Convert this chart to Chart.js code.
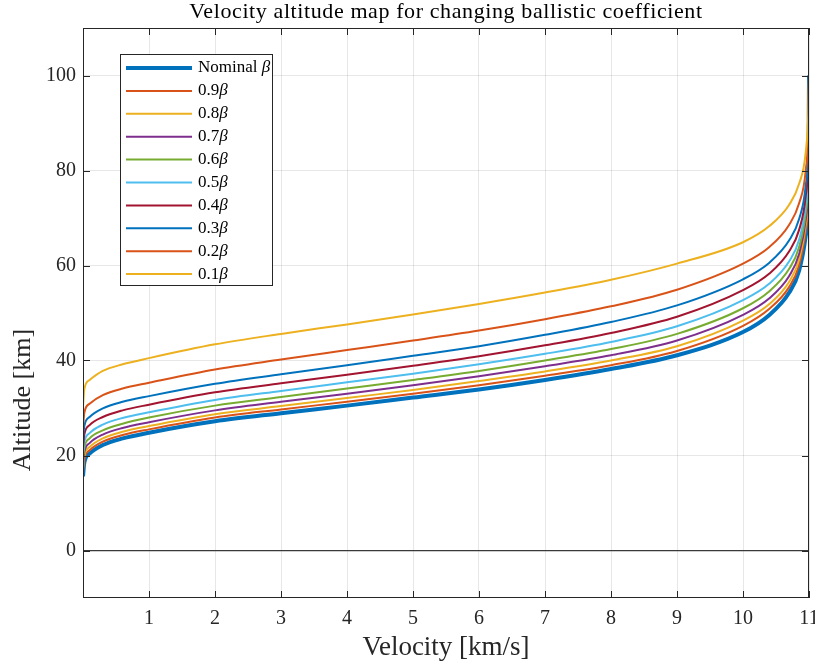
<!DOCTYPE html>
<html>
<head>
<meta charset="utf-8">
<title>Velocity altitude map</title>
<script src="https://cdn.jsdelivr.net/npm/chart.js@4.4.0/dist/chart.umd.min.js"></script>
<style>
    html, body { margin: 0; padding: 0; background: #ffffff; }
    #wrap { width: 815px; height: 668px; }
</style>
</head>
<body>
<div id="wrap"><canvas id="velAltChart" width="815" height="668"></canvas></div>
<script>
// Velocity samples [km/s], shared by every curve
const velocity = [0, 0.02, 0.1, 0.3, 0.6, 1, 2, 3, 4, 5, 6, 7, 8, 9, 10, 10.4, 10.7, 10.85, 10.95, 10.99, 11];

// Altitude [km] at the velocities above
const altNominal = [15.6, 18.5, 20.4, 22.2, 23.6, 24.8, 27.2, 28.9, 30.5, 32.2, 33.9, 35.9, 38.2, 41.1, 46.0, 49.6, 54.3, 58.9, 66.2, 76.9, 100];
const alt09 = [16.4, 19.2, 21.1, 22.9, 24.3, 25.5, 28.0, 29.7, 31.3, 33.0, 34.8, 36.8, 39.0, 42.0, 47.3, 50.9, 55.5, 60.1, 67.4, 78.0, 100];
const alt08 = [17.2, 19.9, 21.8, 23.6, 25.0, 26.2, 28.7, 30.4, 32.1, 33.8, 35.7, 37.7, 40.0, 43.0, 48.4, 51.9, 56.6, 61.2, 68.5, 79.1, 100];
const alt07 = [18.1, 20.7, 22.6, 24.4, 25.8, 27.0, 29.5, 31.3, 33.0, 34.8, 36.7, 38.8, 41.1, 44.2, 49.6, 53.1, 57.8, 62.4, 69.6, 80.2, 100];
const alt06 = [19.0, 21.6, 23.6, 25.3, 26.7, 28.0, 30.5, 32.3, 34.1, 35.9, 37.8, 40.0, 42.4, 45.6, 51.0, 54.6, 59.3, 63.9, 71.0, 81.5, 100];
const alt05 = [20.2, 22.8, 24.7, 26.5, 27.9, 29.1, 31.7, 33.6, 35.4, 37.2, 39.2, 41.4, 43.9, 47.2, 52.7, 56.2, 60.9, 65.4, 72.6, 82.9, 100];
const alt04 = [21.6, 24.4, 26.4, 28.1, 29.5, 30.7, 33.3, 35.2, 37.0, 38.9, 40.9, 43.2, 45.8, 49.2, 54.8, 58.3, 63.0, 67.5, 74.6, 84.7, 100];
const alt03 = [23.4, 26.2, 28.1, 29.9, 31.3, 32.5, 35.1, 37.1, 39.0, 41.0, 43.0, 45.4, 48.1, 51.6, 57.1, 60.6, 65.3, 69.8, 76.8, 86.6, 100];
const alt02 = [25.8, 29.0, 30.9, 32.7, 34.1, 35.3, 38.1, 40.2, 42.2, 44.2, 46.3, 48.7, 51.4, 54.9, 60.4, 63.9, 68.6, 73.1, 80.0, 89.4, 100];
const alt01 = [30.3, 34.0, 35.9, 37.8, 39.2, 40.5, 43.4, 45.6, 47.6, 49.7, 51.9, 54.3, 57.0, 60.4, 64.9, 68.3, 72.8, 77.2, 83.8, 92.5, 100];

const seriesLabels = ['Nominal ', '0.9', '0.8', '0.7', '0.6', '0.5', '0.4', '0.3', '0.2', '0.1'];
const seriesAlts = [altNominal, alt09, alt08, alt07, alt06, alt05, alt04, alt03, alt02, alt01];
const seriesColors = ['#0072BD', '#D95319', '#EDB120', '#7E2F8E', '#77AC30', '#4DBEEE', '#A2142F', '#0072BD', '#D95319', '#EDB120'];

const xTicks = [1, 2, 3, 4, 5, 6, 7, 8, 9, 10, 11];
const yTicks = [0, 20, 40, 60, 80, 100];

const chartTitle = 'Velocity altitude map for changing ballistic coefficient';
const yTitle = 'Altitude [km]';

const SERIF = '"Liberation Serif", "Times New Roman", serif';
const AXIS_DARK = '#262626';

const datasets = seriesAlts.map((alts, i) => ({
    label: seriesLabels[i],
    data: velocity.map((v, k) => ({ x: v, y: alts[k] })),
    borderColor: seriesColors[i],
    backgroundColor: seriesColors[i],
    borderWidth: i === 0 ? 4 : 2,
    pointRadius: 0,
    cubicInterpolationMode: 'monotone',
    fill: false,
    order: seriesAlts.length - i // nominal drawn first, underneath
}));

// box, inward tick marks, titles and the legend, MATLAB style
const matlabFrame = {
    id: 'matlabFrame',
    afterDraw(chart) {
        const { ctx, chartArea: a, scales } = chart;
        const xs = scales.x, ys = scales.y;
        ctx.save();

        ctx.strokeStyle = AXIS_DARK;
        ctx.lineWidth = 1;
        ctx.strokeRect(a.left + 0.5, a.top + 0.5, a.right - a.left - 1, a.bottom - a.top - 1);

        ctx.beginPath();
        xTicks.forEach(v => {
            const px = Math.round(xs.getPixelForValue(v)) + 0.5;
            ctx.moveTo(px, a.bottom); ctx.lineTo(px, a.bottom - 7);
            ctx.moveTo(px, a.top); ctx.lineTo(px, a.top + 7);
        });
        yTicks.forEach(v => {
            const py = Math.round(ys.getPixelForValue(v)) + 0.5;
            ctx.moveTo(a.left, py); ctx.lineTo(a.left + 7, py);
            ctx.moveTo(a.right, py); ctx.lineTo(a.right - 7, py);
        });
        ctx.stroke();

        // title, centred over the axes box
        ctx.save();
        ctx.fillStyle = '#000000';
        ctx.font = '22px ' + SERIF;
        if ('letterSpacing' in ctx) ctx.letterSpacing = '0.6px';
        ctx.textAlign = 'center';
        ctx.textBaseline = 'middle';
        ctx.fillText(chartTitle, (a.left + a.right) / 2, 12);
        ctx.restore();

        // y axis label (sits below the axis centre in the reference)
        ctx.save();
        ctx.translate(23, 400);
        ctx.rotate(-Math.PI / 2);
        ctx.fillStyle = AXIS_DARK;
        ctx.font = '26px ' + SERIF;
        ctx.textAlign = 'center';
        ctx.textBaseline = 'middle';
        ctx.fillText(yTitle, 0, 0);
        ctx.restore();

        // legend
        const lx = a.left + 37, ly = a.top + 26, lw = 152, lh = 231;
        ctx.fillStyle = '#ffffff';
        ctx.fillRect(lx, ly, lw, lh);
        ctx.strokeStyle = AXIS_DARK;
        ctx.lineWidth = 1;
        ctx.strokeRect(lx + 0.5, ly + 0.5, lw, lh);

        chart.data.datasets.forEach((ds, i) => {
            const ry = ly + 14 + i * 22.9;
            ctx.strokeStyle = ds.borderColor;
            ctx.lineWidth = ds.borderWidth;
            ctx.beginPath();
            ctx.moveTo(lx + 6, ry);
            ctx.lineTo(lx + 72, ry);
            ctx.stroke();

            ctx.fillStyle = '#000000';
            ctx.textAlign = 'left';
            ctx.textBaseline = 'middle';
            ctx.font = '17px ' + SERIF;
            ctx.fillText(ds.label, lx + 78, ry);
            const w = ctx.measureText(ds.label).width;
            ctx.font = 'italic 17px ' + SERIF;
            ctx.fillText('\u03B2', lx + 78 + w, ry);
        });

        ctx.restore();
    }
};

new Chart(document.getElementById('velAltChart'), {
    type: 'line',
    data: { datasets: datasets },
    plugins: [matlabFrame],
    options: {
        responsive: false,
        animation: false,
        parsing: false,
        layout: { padding: { left: 0, right: 6, top: 28, bottom: 0 } },
        plugins: {
            legend: { display: false },
            tooltip: { enabled: false },
            title: { display: false }
        },
        scales: {
            x: {
                type: 'linear',
                min: 0,
                max: 11,
                afterBuildTicks: scale => { scale.ticks = xTicks.map(v => ({ value: v })); },
                afterFit: scale => {
                    scale.height = 70;
                    scale.paddingLeft = 0;
                    scale.paddingRight = 0;
                },
                grid: { color: 'rgba(38,38,38,0.11)', drawTicks: false },
                border: { display: false },
                ticks: {
                    color: AXIS_DARK,
                    padding: 9,
                    maxRotation: 0,
                    autoSkip: false,
                    font: { family: SERIF, size: 20 }
                },
                title: {
                    display: true,
                    text: 'Velocity [km/s]',
                    color: AXIS_DARK,
                    font: { family: SERIF, size: 27, lineHeight: 1.2 },
                    padding: { top: 0, bottom: 4 }
                }
            },
            y: {
                type: 'linear',
                min: -10,
                max: 110,
                afterBuildTicks: scale => { scale.ticks = yTicks.map(v => ({ value: v })); },
                afterFit: scale => {
                    scale.width = 83;
                    scale.paddingTop = 0;
                    scale.paddingBottom = 0;
                },
                grid: {
                    drawTicks: false,
                    color: ctx => ctx.tick && ctx.tick.value === 0 ? '#3a3a3a' : 'rgba(38,38,38,0.11)',
                    lineWidth: ctx => ctx.tick && ctx.tick.value === 0 ? 1.3 : 1
                },
                border: { display: false },
                ticks: {
                    color: AXIS_DARK,
                    padding: 7,
                    font: { family: SERIF, size: 20 }
                }
            }
        }
    }
});
</script>
</body>
</html>
